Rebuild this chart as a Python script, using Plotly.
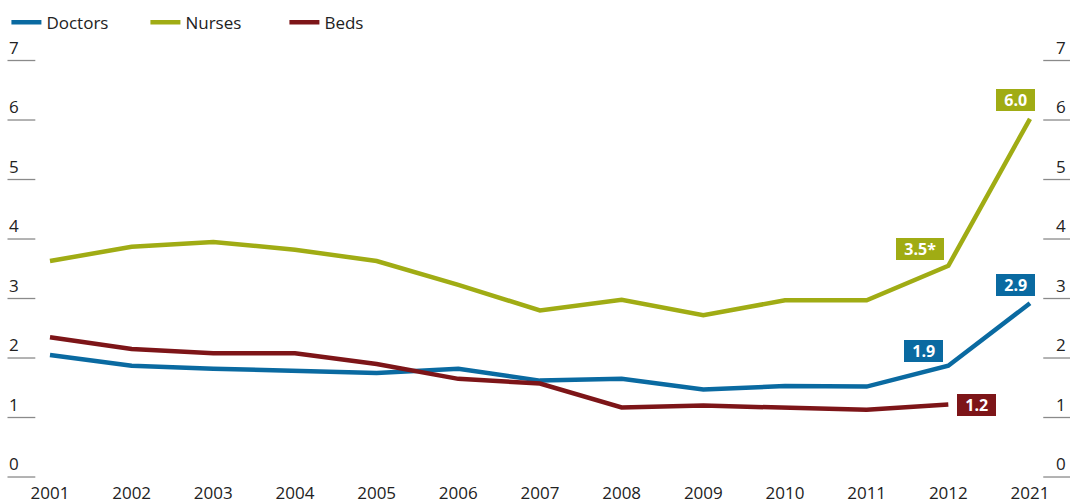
import plotly.graph_objects as go

years = ["2001", "2002", "2003", "2004", "2005", "2006", "2007", "2008",
         "2009", "2010", "2011", "2012", "2021"]
doctors = [2.05, 1.87, 1.82, 1.78, 1.75, 1.82, 1.62, 1.65, 1.47, 1.53, 1.52, 1.87, 2.92]
nurses = [3.63, 3.87, 3.95, 3.82, 3.63, 3.23, 2.80, 2.98, 2.72, 2.97, 2.97, 3.55, 6.02]
beds = [2.35, 2.15, 2.08, 2.08, 1.90, 1.65, 1.57, 1.17, 1.20, 1.17, 1.13, 1.22]
y_ticks = [0, 1, 2, 3, 4, 5, 6, 7]

BLUE = "#0a6aa1"
GREEN = "#a0ac14"
RED = "#7d1518"
FONT = "Open Sans"

xi = list(range(len(years)))

fig = go.Figure()
fig.add_trace(go.Scatter(x=xi, y=doctors, mode="lines", name="Doctors",
                         line=dict(color=BLUE, width=4.5)))
fig.add_trace(go.Scatter(x=xi, y=nurses, mode="lines", name="Nurses",
                         line=dict(color=GREEN, width=4.5)))
fig.add_trace(go.Scatter(x=xi[:len(beds)], y=beds, mode="lines", name="Beds",
                         line=dict(color=RED, width=4.5)))

shapes = []
annotations = []
for t in y_ticks:
    for x0, x1, xa, xp in [(0.007, 0.033, "left", 0.007), (0.975, 1.0, "right", 0.998)]:
        shapes.append(dict(type="line", xref="paper", yref="y", x0=x0, x1=x1, y0=t, y1=t,
                           line=dict(color="#8a8a8a", width=1.3)))
        annotations.append(dict(xref="paper", yref="y", x=xp, y=t, text=str(t),
                                showarrow=False, xanchor=xa, yanchor="bottom", yshift=0,
                                font=dict(family=FONT, size=17, color="#222")))

def label(x, y, text, color, xshift, yshift, xanchor="center"):
    annotations.append(dict(x=x, y=y, text="<b>&nbsp;&nbsp;%s&nbsp;&nbsp;</b>" % text,
                            showarrow=False,
                            xanchor=xanchor, yanchor="middle", xshift=xshift, yshift=yshift,
                            bgcolor=color, borderpad=0, bordercolor=color, borderwidth=0,
                            font=dict(family=FONT, size=16, color="white")))

label(12, nurses[12], "6.0", GREEN, -14, 19)
label(11, nurses[11], "3.5*", GREEN, -28, 17)
label(12, doctors[12], "2.9", BLUE, -14, 18)
label(11, doctors[11], "1.9", BLUE, -25, 15)
label(11, beds[11], "1.2", RED, 9, -1, xanchor="left")

fig.update_layout(
    width=1070, height=503,
    margin=dict(l=0, r=0, t=0, b=22),
    plot_bgcolor="white", paper_bgcolor="white",
    font=dict(family=FONT, size=17, color="#222"),
    showlegend=True,
    legend=dict(orientation="h", x=0.006, y=0.99, xanchor="left", yanchor="top",
                font=dict(family=FONT, size=17), entrywidth=94, entrywidthmode="pixels",
                tracegroupgap=0, bgcolor="rgba(0,0,0,0)"),
    xaxis=dict(range=[-0.612, 12.49], tickmode="array", tickvals=xi, ticktext=years,
               showgrid=False, zeroline=False, showline=False, ticks="",
               tickfont=dict(family=FONT, size=17, color="#222")),
    yaxis=dict(range=[-0.067, 8.017], showgrid=False, zeroline=False, showline=False,
               showticklabels=False, ticks=""),
    shapes=shapes, annotations=annotations,
)

fig.write_html("out.html", config={"displayModeBar": False},
               post_script="document.body.style.margin='0';document.body.style.overflow='hidden';")
